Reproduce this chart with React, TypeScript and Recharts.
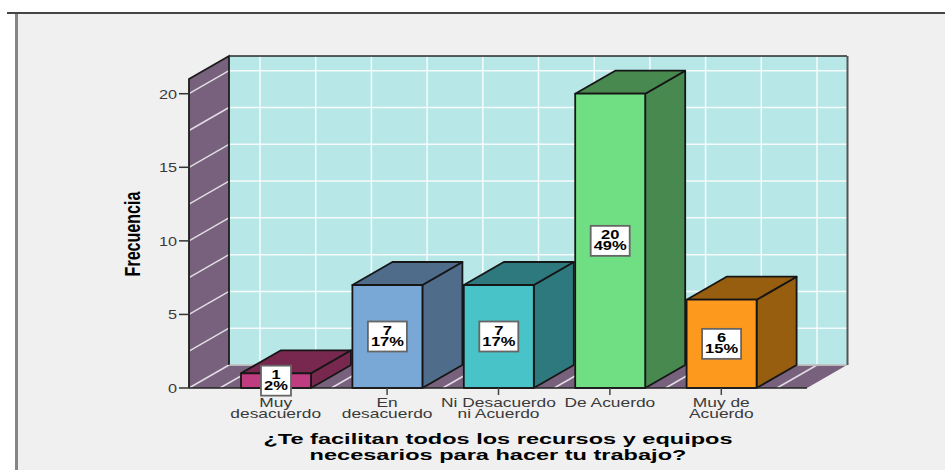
import { BarChart, Bar, XAxis, YAxis, ReferenceArea, LabelList, Label } from 'recharts'

const categories = ['Muy\ndesacuerdo', 'En\ndesacuerdo', 'Ni Desacuerdo\nni Acuerdo', 'De Acuerdo', 'Muy de\nAcuerdo']
const counts = [1, 7, 7, 20, 6]
const percents = ['2%', '17%', '17%', '49%', '15%']
const yTicks = [0, 5, 10, 15, 20]
const yGridLines = [0, 2.5, 5, 7.5, 10, 12.5, 15, 17.5, 20]
const xTitleLines = ['¿Te facilitan todos los recursos y equipos', 'necesarios para hacer tu trabajo?']

const frontColors = ['#C03C80', '#7AA8D6', '#48C3C8', '#70DE82', '#FD9A1E']
const sideColors = ['#78284F', '#4F6C8A', '#2D797D', '#48894F', '#985E10']

const data = categories.map((name, i) => ({ name, count: counts[i], percent: percents[i] }))

const DEPTH_X = 40
const DEPTH_Y = 23
const Y_MAX = 21
const PAD_LEFT = 31
const PAD_RIGHT = 30

const stretched = (x: number, y: number, sx: number) => `translate(${x},${y}) scale(${sx},1)`

// back wall, side wall and floor; the rect the reference area gets starts after the axis padding
function Walls({ x: bandStart, y, width: bandWidth, height }: any) {
  const x = bandStart - PAD_LEFT
  const width = bandWidth + PAD_LEFT + PAD_RIGHT
  const bottom = y + height
  const perUnit = height / Y_MAX
  const band = bandWidth / categories.length
  const verticals = Array.from({ length: categories.length * 2 + 1 }, (_, i) => bandStart + (band * i) / 2)
  return (
    <g>
      <polygon
        points={`${x + DEPTH_X},${y - DEPTH_Y} ${x + width + DEPTH_X},${y - DEPTH_Y} ${x + width + DEPTH_X},${bottom - DEPTH_Y} ${x + DEPTH_X},${bottom - DEPTH_Y}`}
        fill="#B7E7E7"
      />
      <polygon
        points={`${x},${y} ${x + DEPTH_X},${y - DEPTH_Y} ${x + DEPTH_X},${bottom - DEPTH_Y} ${x},${bottom}`}
        fill="#77617C"
      />
      <polygon
        points={`${x},${bottom} ${x + DEPTH_X},${bottom - DEPTH_Y} ${x + width + DEPTH_X},${bottom - DEPTH_Y} ${x + width},${bottom}`}
        fill="#77617C"
      />
      {yGridLines.map((v) => {
        const py = bottom - v * perUnit
        return (
          <g key={v} stroke="#F6FBFB" strokeWidth={1.5}>
            <line x1={x} y1={py} x2={x + DEPTH_X} y2={py - DEPTH_Y} stroke="#E2DCE4" />
            <line x1={x + DEPTH_X} y1={py - DEPTH_Y} x2={x + width + DEPTH_X} y2={py - DEPTH_Y} />
          </g>
        )
      })}
      {verticals.map((vx) => (
        <g key={vx} stroke="#F6FBFB" strokeWidth={1.5}>
          <line x1={vx} y1={bottom} x2={vx + DEPTH_X} y2={bottom - DEPTH_Y} stroke="#E2DCE4" />
          <line x1={vx + DEPTH_X} y1={bottom - DEPTH_Y} x2={vx + DEPTH_X} y2={y - DEPTH_Y} />
        </g>
      ))}
      <path
        d={`M${x},${bottom} L${x},${y} L${x + DEPTH_X},${y - DEPTH_Y} L${x + DEPTH_X},${bottom - DEPTH_Y}`}
        fill="none"
        stroke="#1c1c1c"
        strokeWidth={1.8}
      />
      <path
        d={`M${x + DEPTH_X},${y - DEPTH_Y} H${x + width + DEPTH_X}`}
        fill="none"
        stroke="#2a2a2a"
        strokeWidth={1.5}
      />
      <path
        d={`M${x + width + DEPTH_X + 0.5},${y - DEPTH_Y} V${bottom - DEPTH_Y}`}
        fill="none"
        stroke="#555"
        strokeWidth={2}
      />
      <path d={`M${x + DEPTH_X},${bottom - DEPTH_Y} H${x + width + DEPTH_X}`} fill="none" stroke="#999" strokeWidth={1} />
    </g>
  )
}

function Box3D({ x, y, width, height, index }: any) {
  const right = x + width
  const bottom = y + height
  return (
    <g stroke="#161616" strokeWidth={1.8} strokeLinejoin="round">
      <polygon
        points={`${right},${y} ${right + DEPTH_X},${y - DEPTH_Y} ${right + DEPTH_X},${bottom - DEPTH_Y} ${right},${bottom}`}
        fill={sideColors[index]}
      />
      <polygon
        points={`${x},${y} ${x + DEPTH_X},${y - DEPTH_Y} ${right + DEPTH_X},${y - DEPTH_Y} ${right},${y}`}
        fill={sideColors[index]}
      />
      <rect x={x} y={y} width={width} height={height} fill={frontColors[index]} />
    </g>
  )
}

function ValueLabel({ x, y, width, height, index }: any) {
  const cx = x + width / 2
  const cy = y + height / 2
  const boxW = percents[index].length > 2 ? 39 : 30
  return (
    <g>
      <rect x={cx - boxW / 2} y={cy - 15} width={boxW} height={30} fill="#fff" stroke="#666" strokeWidth={1.8} />
      <g fontFamily="Liberation Sans" fontWeight="bold" fontSize={13} fill="#000" textAnchor="middle">
        <text transform={stretched(cx, cy - 2, 1.27)}>{counts[index]}</text>
        <text transform={stretched(cx, cy + 9, 1.27)}>{percents[index]}</text>
      </g>
    </g>
  )
}

function CategoryTick({ x, y, payload }: any) {
  const lines = String(payload.value).split('\n')
  return (
    <g fontFamily="Liberation Sans" fontSize={12.5} fill="#3a3a3a" textAnchor="middle">
      {lines.map((line, i) => (
        <text key={line} transform={stretched(x, y + 10 + i * 11, 1.39)}>
          {line}
        </text>
      ))}
    </g>
  )
}

function CountTick({ x, y, payload }: any) {
  return (
    <text
      transform={stretched(x, y + 5, 1.3)}
      fontFamily="Liberation Sans"
      fontSize={12.5}
      fill="#3a3a3a"
      textAnchor="end"
    >
      {payload.value}
    </text>
  )
}

function XTitle() {
  return (
    <g fontFamily="Liberation Sans" fontWeight="bold" fontSize={15} fill="#000" textAnchor="middle">
      {xTitleLines.map((line, i) => (
        <text key={line} transform={stretched(498, 444 + i * 16, 1.57)}>
          {line}
        </text>
      ))}
    </g>
  )
}

function YTitle() {
  return (
    <text
      transform="translate(139.5,234) rotate(-90) scale(0.73,1)"
      fontFamily="Liberation Sans"
      fontWeight="bold"
      fontSize={22}
      fill="#000"
      textAnchor="middle"
    >
      Frecuencia
    </text>
  )
}

export default function App() {
  return (
    <div style={{ position: 'absolute', left: 0, top: 0, width: 945, height: 470, background: '#fff', overflow: 'hidden' }}>
      <div
        style={{
          position: 'absolute',
          left: 15,
          top: 14,
          right: 0,
          bottom: 0,
          background: '#F0F0F0',
          borderLeft: '3px solid #858585',
        }}
      />
      <div style={{ position: 'absolute', left: 7, top: 12, right: 0, height: 2, background: '#444' }} />
      <div style={{ position: 'absolute', left: 0, top: 0 }}>
        <BarChart
          width={945}
          height={470}
          data={data}
          barSize={70}
          margin={{ top: 79, right: 138, bottom: 22, left: 129 }}
        >
          <ReferenceArea y1={0} y2={Y_MAX} shape={Walls} ifOverflow="visible" />
          <XAxis
            dataKey="name"
            interval={0}
            height={60}
            padding={{ left: PAD_LEFT, right: PAD_RIGHT }}
            tick={CategoryTick}
            tickSize={7}
            tickLine={{ stroke: '#444', strokeWidth: 1.5 }}
            axisLine={{ stroke: '#222', strokeWidth: 1.5 }}
          >
            <Label content={XTitle} />
          </XAxis>
          <YAxis
            width={60}
            domain={[0, Y_MAX]}
            ticks={yTicks}
            tick={CountTick}
            tickSize={10}
            tickLine={{ stroke: '#333', strokeWidth: 1.5 }}
            axisLine={false}
          >
            <Label content={YTitle} />
          </YAxis>
          <Bar dataKey="count" shape={Box3D} isAnimationActive={false}>
            <LabelList dataKey="count" content={ValueLabel} />
          </Bar>
        </BarChart>
      </div>
    </div>
  )
}
